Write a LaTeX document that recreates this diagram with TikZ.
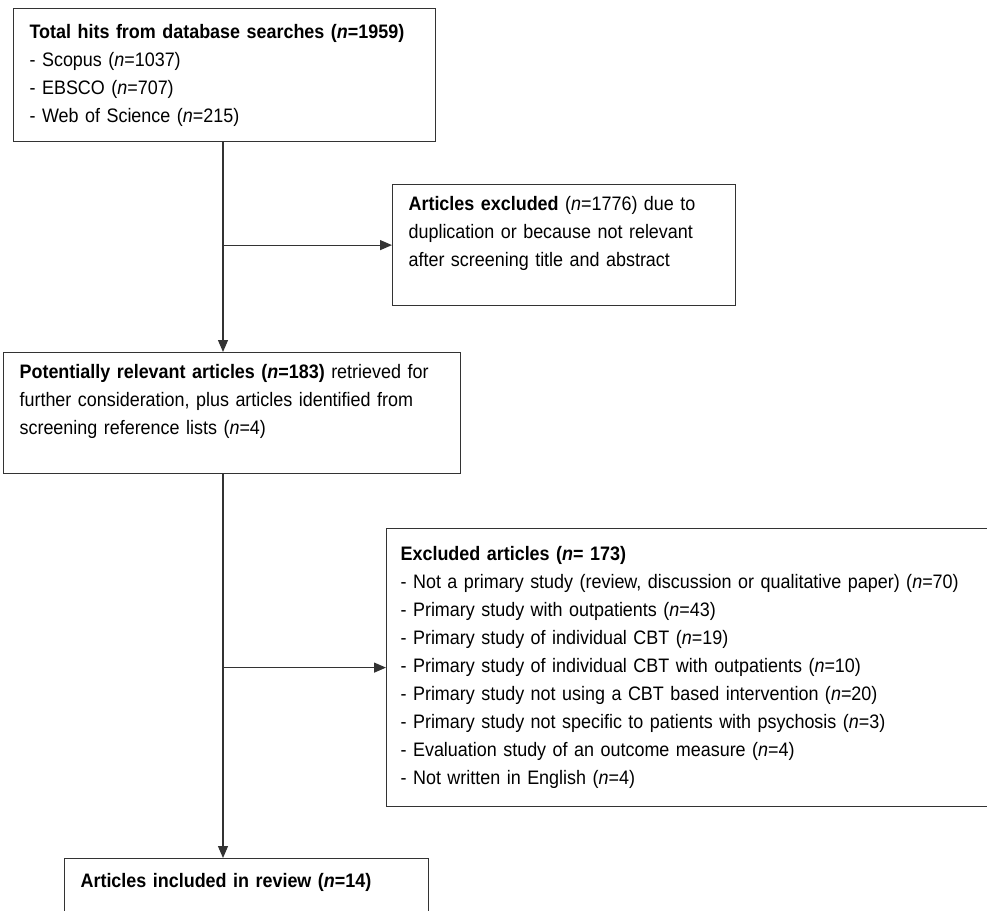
\documentclass[tikz,border=0pt]{standalone}
\usepackage{fontspec}
\setmainfont{Liberation Sans}[FakeStretch=0.92]
\usetikzlibrary{arrows.meta}
\definecolor{boxline}{gray}{0.2}

\begin{document}
\begin{tikzpicture}[x=1pt,y=-1pt,
    font=\fontsize{19.5}{28}\selectfont,
    box/.style={draw=boxline, line width=1.2pt, rectangle, anchor=north west,
        align=left, inner xsep=16pt, inner ysep=0pt},
    arr/.style={draw=boxline, line width=1.2pt, -{Triangle[length=12pt,width=10pt]}}]
        \useasboundingbox (0,0) rectangle (987,910);

        \node[box, text width=390pt, minimum height=133pt] (hits) at (13,8)
        {\textbf{Total hits from database searches (\textit{n}=1959)}\\
        - Scopus (\textit{n}=1037)\\
        - EBSCO (\textit{n}=707)\\
        - Web of Science (\textit{n}=215)};

        \node[box, text width=311pt, minimum height=121pt] (excl1) at (392,184)
        {\textbf{Articles excluded} (\textit{n}=1776) due to\\
        duplication or because not relevant\\
        after screening title and abstract\\ ~};

        \node[box, text width=425pt, minimum height=121pt] (pot) at (3,352)
        {\textbf{Potentially relevant articles (\textit{n}=183)} retrieved for\\
        further consideration, plus articles identified from\\
        screening reference lists (\textit{n}=4)\\ ~};

        \node[box, text width=612pt, inner xsep=14pt, minimum height=278pt] (excl2) at (386,528)
        {\textbf{Excluded articles (\textit{n}= 173)}\\
        - Not a primary study (review, discussion or qualitative paper) (\textit{n}=70)\\
        - Primary study with outpatients (\textit{n}=43)\\
        - Primary study of individual CBT (\textit{n}=19)\\
        - Primary study of individual CBT with outpatients (\textit{n}=10)\\
        - Primary study not using a CBT based intervention (\textit{n}=20)\\
        - Primary study not specific to patients with psychosis (\textit{n}=3)\\
        - Evaluation study of an outcome measure (\textit{n}=4)\\
        - Not written in English (\textit{n}=4)};

        \node[box, text width=332pt, minimum height=128pt] (incl) at (64,858)
        {\textbf{Articles included in review (\textit{n}=14)}\\ ~\\ ~\\ ~};

        \coordinate (spine) at (223,0);

        \draw[arr] (hits.south -| spine) -- (pot.north -| spine);
        \draw[arr] (spine |- excl1.west) -- (excl1.west);
        \draw[arr] (pot.south -| spine) -- (incl.north -| spine);
        \draw[arr] (spine |- excl2.west) -- (excl2.west);
\end{tikzpicture}
\end{document}
